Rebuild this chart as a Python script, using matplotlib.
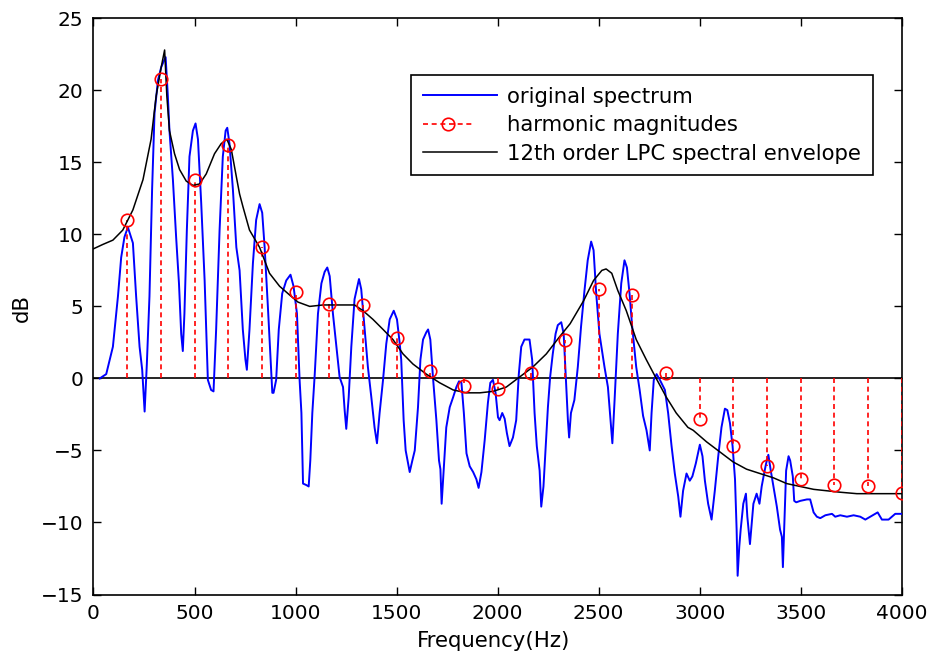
import numpy as np
import matplotlib
matplotlib.use("Agg")
import matplotlib.pyplot as plt
from matplotlib.lines import Line2D
from matplotlib.legend_handler import HandlerLine2D

# ---------------- data ----------------
spec_freq = [31, 63, 96, 121, 137, 153, 170, 195, 211, 228, 241, 253, 264, 277, 290, 302, 319, 335, 347, 357,
             368, 376, 393, 409, 423, 434, 442, 450, 462, 475, 492, 505, 517, 533, 550, 566, 582, 594, 607, 624,
             640, 654, 662, 673, 690, 707,
             723, 739, 752, 759, 772, 789, 805, 822, 835, 847, 863, 876, 885, 891, 904, 917, 934, 954, 975, 990,
             1007, 1020, 1029, 1037, 1053, 1065, 1073, 1083, 1095, 1111, 1128, 1144, 1157, 1169, 1185, 1202,
             1218, 1235, 1243, 1251, 1263, 1276, 1292, 1314, 1325, 1342, 1358, 1375, 1391, 1403, 1416, 1433,
             1449, 1466, 1486, 1502, 1515,
             1523, 1535, 1545, 1565, 1578, 1590, 1606, 1618, 1631, 1647, 1656, 1667, 1680, 1697, 1710, 1717,
             1723, 1733, 1746, 1763, 1780, 1796, 1809, 1821, 1833, 1846, 1862, 1879, 1895, 1906, 1920, 1936,
             1952, 1964, 1977, 1990, 2002, 2010, 2023, 2035, 2046, 2059, 2076, 2092, 2105, 2117, 2133, 2158,
             2171, 2183, 2194, 2208, 2216, 2227, 2237, 2249, 2260, 2273, 2287, 2298, 2315, 2327, 2337, 2348,
             2354, 2363, 2380, 2397, 2413, 2430, 2446, 2463, 2475, 2488, 2504, 2529, 2546, 2558, 2568, 2579,
             2595, 2612, 2628, 2640, 2653, 2666, 2686, 2703,
             2720, 2737, 2753, 2762, 2773, 2787, 2803, 2828, 2844, 2861, 2877, 2894, 2905, 2918, 2935, 2951,
             2964, 2981, 3001, 3014, 3026, 3042, 3059, 3075, 3092, 3108, 3125, 3137, 3150, 3163, 3175, 3183,
             3188, 3196, 3203, 3216, 3229, 3236, 3249, 3266, 3282, 3296, 3307, 3319, 3329, 3340, 3352, 3365,
             3382, 3398, 3407, 3412, 3418, 3428, 3440, 3448, 3461, 3468, 3478, 3498, 3531, 3547, 3564, 3580,
             3597, 3622, 3655, 3671, 3696, 3729, 3762, 3795, 3820, 3844, 3881, 3902, 3935, 3968, 4000]
spec_db = [0.0, 0.3, 2.2, 5.7, 8.4, 9.8, 10.5, 9.4, 5.7, 2.2, 0.6, -2.3, 1.0, 5.7, 13.1, 18.4, 20.7, 21.6, 22.0, 22.3,
           19.6, 17.2, 13.8, 9.8, 6.6, 3.1, 1.9, 4.5, 10.3, 15.4, 17.2, 17.7, 16.6, 12.2, 6.8, -0.1, -0.8, -0.9, 3.4, 10.3,
           15.4, 17.2, 17.4, 16.3, 13.1, 9.1,
           7.5, 3.4, 1.3, 0.6, 3.4, 8.0, 11.0, 12.1, 11.5, 9.1, 5.0, 1.5, -1.0, -1.0, -0.1, 3.4, 5.9, 6.8, 7.2, 6.4,
           4.5, -0.1, -2.4, -7.3, -7.4, -7.5, -5.7, -2.4, 0.3, 4.5, 6.6, 7.4, 7.7, 7.1, 4.5, 2.2,
           0.1, -0.6, -2.2, -3.5, -1.3, 2.2, 5.5, 6.9, 6.2, 3.4, 0.8, -1.3, -3.4, -4.5, -2.4, -0.1,
           2.4, 4.1, 4.7, 4.1, 2.5,
           1.3, -2.9, -5.0, -6.5, -5.7, -5.0, -2.0, 1.3, 2.7, 3.2, 3.4, 2.7, 0.1, -2.9, -5.7, -6.3,
           -8.7, -6.4, -3.4, -2.0, -1.3, -0.6, -0.2, -0.3, -2.4, -5.2, -6.1, -6.5, -7.0, -7.6, -6.5, -4.3,
           -1.7, -0.3, -0.1, -1.0, -2.7, -2.9, -2.4, -2.8, -3.8, -4.7, -4.1, -2.9, 0.3, 2.2, 2.7, 2.7,
           1.3, -2.4, -4.7, -6.4, -8.9, -7.5, -5.0, -2.0, 0.1, 1.7, 3.1, 3.7, 3.9, 3.1, 0.3, -2.9,
           -4.1, -2.4, -1.5, 0.8, 3.6, 6.1, 8.2, 9.5, 8.9, 5.9, 3.1, 0.8, -0.6, -2.7, -4.5, -1.5,
           3.1, 6.6, 8.2, 7.7, 5.9, 3.6, 0.8, -0.8,
           -2.6, -3.6, -5.0, -2.4, -0.1, 0.3, -0.1, -0.8, -2.4, -4.7, -6.6, -8.2, -9.6, -7.8, -6.6, -7.1,
           -6.8, -5.9, -4.6, -5.4, -7.1, -8.7, -9.8, -7.8, -5.4, -3.4, -2.1, -2.2, -3.1, -4.7, -7.0, -10.5,
           -13.7, -11.7, -10.5, -8.7, -8.0, -9.6, -11.5, -8.7, -8.0, -8.7, -7.5, -6.6, -5.9, -5.3, -6.4, -7.5,
           -8.9, -10.5, -11.0, -13.1, -10.5, -6.4, -5.4, -5.7, -6.8, -8.5, -8.6, -8.5, -8.4, -8.4, -9.3, -9.6,
           -9.7, -9.5, -9.4, -9.6, -9.5, -9.6, -9.5, -9.6, -9.8, -9.6, -9.3, -9.8, -9.8, -9.4, -9.4]

harm_freq = [166.7, 333.3, 500.0, 666.7, 833.3, 1000.0, 1166.7, 1333.3, 1500.0, 1666.7, 1833.3, 2000.0,
             2166.7, 2333.3, 2500.0, 2666.7, 2833.3, 3000.0, 3166.7, 3333.3, 3500.0, 3666.7, 3833.3, 4000.0]
harm_db = [11.0, 20.8, 13.8, 16.2, 9.1, 6.0, 5.2, 5.1, 2.8, 0.5, -0.5, -0.7,
           0.4, 2.7, 6.2, 5.8, 0.4, -2.8, -4.7, -6.1, -7.0, -7.4, -7.5, -7.95]

env_freq = [0, 46, 96, 145, 195, 245, 285, 310, 335, 352, 363, 376, 401, 426, 459, 492, 525, 558, 599, 632,
            660, 682, 707, 723, 740, 772, 822, 871, 921, 970, 1012, 1070, 1136, 1218, 1292, 1334, 1383, 1433,
            1482, 1532, 1581, 1647, 1713, 1780, 1846, 1912, 1977, 2043, 2109, 2175, 2241, 2307, 2359, 2426,
            2475, 2516, 2537, 2565, 2595, 2637, 2686, 2736, 2785, 2835, 2884, 2942, 2968, 3034, 3100, 3166,
            3232, 3298, 3365, 3431, 3497, 3564, 3630, 3696, 3778, 3861, 4000]
env_db = [9.0, 9.3, 9.6, 10.3, 11.7, 13.8, 16.6, 19.6, 21.6, 22.8, 19.6, 17.2, 15.6, 14.5, 13.7, 13.4, 13.5, 14.2, 15.6, 16.3,
          16.6, 15.9, 14.0, 12.8, 11.9, 10.3, 9.1, 7.3, 6.4, 5.8, 5.3, 5.0, 5.1, 5.1, 5.1, 4.7, 4.1, 3.4,
          2.7, 1.7, 1.0, 0.3, -0.3, -0.8, -1.0, -1.0, -0.9, -0.6, 0.1, 0.8, 1.7, 2.9, 3.8, 5.4,
          6.8, 7.5, 7.6, 7.3, 6.1, 4.7, 2.7, 1.3, 0.0, -1.3, -2.4, -3.4, -3.6, -4.4, -5.1, -5.8,
          -6.3, -6.6, -6.9, -7.3, -7.5, -7.7, -7.8, -7.9, -8.0, -8.0, -8.0]

x_ticks = [0, 500, 1000, 1500, 2000, 2500, 3000, 3500, 4000]
y_ticks = [-15, -10, -5, 0, 5, 10, 15, 20, 25]
labels = ["original spectrum", "harmonic magnitudes", "12th order LPC spectral envelope"]

# ---------------- figure ----------------
plt.rcParams['font.family'] = ['DejaVu Sans']
FS_TICK = 14.5
FS = 15.3

W, H = 928, 656
L, R, T, B = 93.5, 901.7, 18.3, 594.5
fig = plt.figure(figsize=(W / 100, H / 100), dpi=100)
ax = fig.add_axes([L / W, 1 - B / H, (R - L) / W, (B - T) / H])

ax.axhline(0, color='black', lw=1.2, zorder=2)
ax.plot(spec_freq, spec_db, color=(0, 0, 1), lw=1.4, zorder=3)
ax.vlines(harm_freq, 0, harm_db, colors='red', linestyles=(0, (3, 2.2)), lw=1.2, zorder=4)
ax.plot(harm_freq, harm_db, linestyle='none', marker='o', ms=9, mfc='none', mec='red', mew=1.2, zorder=6)
ax.plot(env_freq, env_db, color='black', lw=1.1, zorder=5)

ax.set_xlim(0, 4000)
ax.set_ylim(-15, 25)
ax.set_xticks(x_ticks)
ax.set_yticks(y_ticks)
ax.tick_params(direction='in', length=6, width=1, labelsize=FS_TICK, top=True, right=True)
ax.tick_params(axis='x', pad=6.5)
ax.tick_params(axis='y', pad=7.5)
for s in ax.spines.values():
    s.set_linewidth(1.2)
ax.set_xlabel("Frequency(Hz)", fontsize=FS)
ax.set_ylabel("dB", fontsize=FS)
ax.xaxis.set_label_coords((494 - L) / (R - L), (B - 641) / (B - T))
ax.xaxis.label.set_va('center')
ax.yaxis.set_label_coords((22 - L) / (R - L), (B - 308) / (B - T))
ax.yaxis.label.set_va('center')
ax.yaxis.label.set_ha('center')


class StemHandler(HandlerLine2D):
    def get_xdata(self, legend, xdescent, ydescent, width, height, fontsize):
        xdata = [-xdescent, -xdescent + 0.68 * width]
        xm = [-xdescent + 0.74 * width]
        return xdata, xm


h1 = Line2D([], [], color=(0, 0, 1), lw=1.4)
h2 = Line2D([], [], color='red', ls=(0, (3, 2.2)), lw=1.2, marker='o', ms=9, mfc='none', mec='red', mew=1.2)
h3 = Line2D([], [], color='black', lw=1.1)
leg = fig.legend([h1, h2, h3], labels, loc='upper right', bbox_to_anchor=(873 / W, 1 - 75 / H),
                 fontsize=FS, frameon=True, fancybox=False, edgecolor='black', framealpha=1,
                 handlelength=3.5, handletextpad=0.47, labelspacing=0.4, borderpad=0.55, borderaxespad=0,
                 handler_map={h2: StemHandler(numpoints=1)})
leg.get_frame().set_linewidth(1.2)

fig.savefig("out.png", dpi=100)
